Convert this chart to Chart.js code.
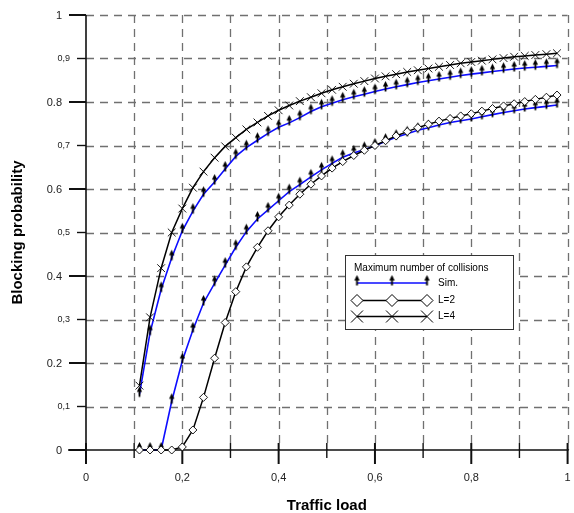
<!DOCTYPE html>
<html>
<head>
<meta charset="utf-8">
<script src="https://cdn.jsdelivr.net/npm/chart.js@4/dist/chart.umd.min.js"></script>
<style>
  body { margin: 0; background: #fff; }
  canvas { display: block; }
</style>
</head>
<body>
<canvas id="chart" width="574" height="513"></canvas>
<script>
// traffic load samples (k/45)
const loads = [0.111, 0.133, 0.156, 0.178, 0.2, 0.222, 0.244, 0.267, 0.289, 0.311,
  0.333, 0.356, 0.378, 0.4, 0.422, 0.444, 0.467, 0.489, 0.511, 0.533,
  0.556, 0.578, 0.6, 0.622, 0.644, 0.667, 0.689, 0.711, 0.733, 0.756,
  0.778, 0.8, 0.822, 0.844, 0.867, 0.889, 0.911, 0.933, 0.956, 0.978];

const simHigh = [0.128, 0.27, 0.369, 0.442, 0.504, 0.549, 0.588, 0.616, 0.646, 0.675,
  0.695, 0.712, 0.728, 0.742, 0.752, 0.764, 0.778, 0.789, 0.797, 0.805,
  0.812, 0.818, 0.824, 0.83, 0.835, 0.84, 0.845, 0.849, 0.853, 0.857,
  0.861, 0.864, 0.867, 0.87, 0.873, 0.876, 0.878, 0.88, 0.882, 0.884];

const l4 = [0.148, 0.305, 0.418, 0.5, 0.555, 0.603, 0.64, 0.672, 0.698, 0.718,
  0.737, 0.753, 0.768, 0.781, 0.792, 0.802, 0.811, 0.82, 0.828, 0.835,
  0.842, 0.848, 0.854, 0.859, 0.864, 0.869, 0.873, 0.877, 0.881, 0.885,
  0.889, 0.892, 0.895, 0.898, 0.901, 0.904, 0.906, 0.908, 0.91, 0.912];

const simLow = [0, 0, 0, 0.112, 0.205, 0.276, 0.338, 0.383, 0.425, 0.466,
  0.502, 0.531, 0.552, 0.573, 0.594, 0.61, 0.628, 0.644, 0.659, 0.673,
  0.683, 0.691, 0.699, 0.71, 0.719, 0.727, 0.735, 0.741, 0.747, 0.753,
  0.757, 0.761, 0.766, 0.771, 0.776, 0.78, 0.784, 0.787, 0.79, 0.793];

const l2 = [0, 0, 0, 0, 0.007, 0.046, 0.121, 0.211, 0.293, 0.364,
  0.421, 0.466, 0.504, 0.536, 0.563, 0.588, 0.611, 0.63, 0.648, 0.663,
  0.677, 0.689, 0.7, 0.711, 0.722, 0.732, 0.741, 0.749, 0.756, 0.762,
  0.768, 0.773, 0.779, 0.785, 0.791, 0.796, 0.801, 0.806, 0.811, 0.816];

const xTicks = [0, 0.1, 0.2, 0.3, 0.4, 0.5, 0.6, 0.7, 0.8, 0.9, 1];
const xTickLabels = ["0", "", "0,2", "", "0,4", "", "0,6", "", "0,8", "", "1"];
const yTicks = [0, 0.1, 0.2, 0.3, 0.4, 0.5, 0.6, 0.7, 0.8, 0.9, 1];
const yTickLabels = ["0", "0,1", "0.2", "0,3", "0.4", "0,5", "0.6", "0,7", "0.8", "0,9", "1"];

const legendTitle = "Maximum number of collisions";
const legendLabels = ["Sim.", "L=2", "L=4"];

const BLUE = "#0d0dff";
const FONT = "'Liberation Sans', Arial, sans-serif";

// arrow marker used for the simulation points
const arrow = document.createElement("canvas");
arrow.width = 9;
arrow.height = 18;
{
  const c = arrow.getContext("2d");
  c.strokeStyle = "#000";
  c.fillStyle = "#000";
  c.lineWidth = 1.8;
  c.beginPath();
  c.moveTo(4.5, 4.5);
  c.lineTo(4.5, 11.5);
  c.stroke();
  c.beginPath();
  c.moveTo(4.5, 1);
  c.lineTo(1.8, 6.5);
  c.lineTo(7.2, 6.5);
  c.closePath();
  c.fill();
}

const pts = (ys) => loads.map((x, i) => ({ x, y: ys[i] }));

const frame = {
  id: "frame",
  beforeDatasetsDraw(chart) {
    const { ctx, scales: { x, y } } = chart;
    const x0 = x.getPixelForValue(0), x1 = x.getPixelForValue(1);
    const y0 = y.getPixelForValue(0), y1 = y.getPixelForValue(1);
    ctx.save();

    // dashed grid
    ctx.strokeStyle = "#707070";
    ctx.lineWidth = 1.3;
    ctx.setLineDash([8, 6]);
    xTicks.forEach((v) => {
      if (v === 0) return;
      const px = Math.round(x.getPixelForValue(v)) + 0.5;
      ctx.beginPath();
      ctx.moveTo(px, y1);
      ctx.lineTo(px, y0);
      ctx.stroke();
    });
    yTicks.forEach((v) => {
      if (v === 0) return;
      const py = Math.round(y.getPixelForValue(v)) + 0.5;
      ctx.beginPath();
      ctx.moveTo(x0, py);
      ctx.lineTo(x1, py);
      ctx.stroke();
    });
    ctx.setLineDash([]);

    // axes
    ctx.strokeStyle = "#111";
    ctx.lineWidth = 1.6;
    ctx.beginPath();
    ctx.moveTo(x0, y1);
    ctx.lineTo(x0, y0 + 13);
    ctx.moveTo(x0 - 18, y0);
    ctx.lineTo(x1 + 1, y0);
    ctx.stroke();

    // y ticks + labels
    ctx.fillStyle = "#222";
    ctx.textAlign = "right";
    ctx.textBaseline = "middle";
    yTicks.forEach((v, i) => {
      const py = y.getPixelForValue(v);
      const major = i % 2 === 0;
      ctx.lineWidth = major ? 2 : 1.4;
      ctx.beginPath();
      ctx.moveTo(x0 - (major ? 17 : 9), py);
      ctx.lineTo(x0, py);
      ctx.stroke();
      ctx.font = (major ? "11px " : "9px ") + FONT;
      ctx.fillText(yTickLabels[i], x0 - (major ? 24 : 16), py + 0.5);
    });

    // x ticks + labels
    ctx.textAlign = "center";
    ctx.font = "11px " + FONT;
    xTicks.forEach((v, i) => {
      const px = x.getPixelForValue(v);
      const major = i % 2 === 0;
      ctx.lineWidth = major ? 2 : 1.4;
      ctx.beginPath();
      ctx.moveTo(px, y0 - 7);
      ctx.lineTo(px, y0 + (major ? 14 : 8));
      ctx.stroke();
      if (xTickLabels[i]) ctx.fillText(xTickLabels[i], px, y0 + 28);
    });

    // axis titles
    ctx.fillStyle = "#000";
    ctx.font = "bold 15px " + FONT;
    ctx.fillText("Traffic load", (x0 + x1) / 2, 506);
    ctx.save();
    ctx.translate(18, (y0 + y1) / 2);
    ctx.rotate(-Math.PI / 2);
    ctx.fillText("Blocking probability", 0, 0);
    ctx.restore();

    ctx.restore();
  },
  afterDatasetsDraw(chart) {
    const { ctx } = chart;
    ctx.save();
    ctx.fillStyle = "#fff";
    ctx.fillRect(345, 255, 168, 74);
    ctx.strokeStyle = "#333";
    ctx.lineWidth = 1;
    ctx.strokeRect(345.5, 255.5, 168, 74);

    ctx.fillStyle = "#000";
    ctx.font = "10px " + FONT;
    ctx.textAlign = "left";
    ctx.textBaseline = "middle";
    ctx.fillText(legendTitle, 354, 268);

    const rows = [283, 300.5, 316.5];
    const marks = [357, 392, 427];
    rows.forEach((ry, i) => {
      ctx.strokeStyle = i === 0 ? BLUE : "#000";
      ctx.lineWidth = 1.5;
      ctx.beginPath();
      ctx.moveTo(marks[0], ry);
      ctx.lineTo(marks[2], ry);
      ctx.stroke();
      marks.forEach((mx) => {
        ctx.strokeStyle = "#000";
        ctx.lineWidth = 1;
        if (i === 0) {
          ctx.drawImage(arrow, mx - 4.5, ry - 9);
        } else if (i === 1) {
          ctx.fillStyle = "#fff";
          ctx.beginPath();
          ctx.moveTo(mx, ry - 6);
          ctx.lineTo(mx + 6, ry);
          ctx.lineTo(mx, ry + 6);
          ctx.lineTo(mx - 6, ry);
          ctx.closePath();
          ctx.fill();
          ctx.stroke();
        } else {
          ctx.beginPath();
          ctx.moveTo(mx - 6, ry - 6);
          ctx.lineTo(mx + 6, ry + 6);
          ctx.moveTo(mx + 6, ry - 6);
          ctx.lineTo(mx - 6, ry + 6);
          ctx.stroke();
        }
      });
      ctx.fillStyle = "#000";
      ctx.fillText(legendLabels[i], 438, ry);
    });
    ctx.restore();
  },
};

new Chart(document.getElementById("chart"), {
  type: "line",
  data: {
    datasets: [
      {
        label: "L=4",
        data: pts(l4),
        borderColor: "#000",
        borderWidth: 1.5,
        pointStyle: "crossRot",
        pointRadius: 5.5,
        pointBorderColor: "#000",
        pointBorderWidth: 0.9,
        clip: false,
      },
      {
        label: "L=2",
        data: pts(l2),
        borderColor: "#000",
        borderWidth: 1.5,
        pointStyle: "rectRot",
        pointRadius: 4,
        pointBackgroundColor: "#fff",
        pointBorderColor: "#000",
        pointBorderWidth: 0.9,
        clip: false,
      },
      {
        label: "Sim.",
        data: pts(simHigh),
        borderColor: BLUE,
        borderWidth: 1.6,
        pointStyle: arrow,
        clip: false,
      },
      {
        label: "Sim. ",
        data: pts(simLow),
        borderColor: BLUE,
        borderWidth: 1.6,
        pointStyle: arrow,
        clip: false,
      },
    ],
  },
  options: {
    responsive: false,
    animation: false,
    events: [],
    layout: { padding: { left: 86, right: 1, top: 15, bottom: 63 } },
    scales: {
      x: { type: "linear", min: 0, max: 1, display: false },
      y: { type: "linear", min: 0, max: 1, display: false },
    },
    plugins: {
      legend: { display: false },
      tooltip: { enabled: false },
    },
  },
  plugins: [frame],
});
</script>
</body>
</html>
